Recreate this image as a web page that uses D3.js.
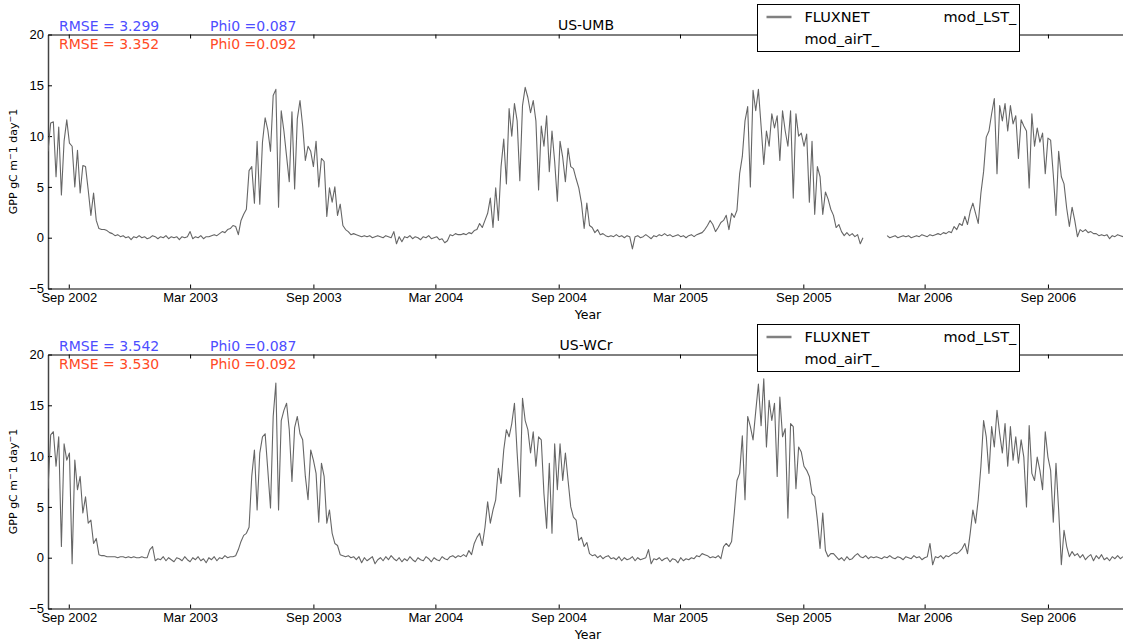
<!DOCTYPE html>
<html>
<head>
<meta charset="utf-8">
<script src="https://cdn.jsdelivr.net/npm/d3@7/dist/d3.min.js"></script>
<style>
  body { margin: 0; background: #fff; }
  svg { font-family: "DejaVu Sans", sans-serif; }
</style>
</head>
<body>
<div id="chart"></div>
<script>
// daily GPP, one value every 4 days from 1 Aug 2002
var startDate = new Date(2002, 7, 1);
var stepDays = 4;

var gppUMB = [
  8.5, 11.3, 11.4, 6.0, 10.9, 4.2, 9.5, 11.6, 9.3, 9.0,
  5.0, 8.6, 4.4, 7.1, 7.0, 4.7, 2.2, 4.4, 1.7, 0.9,
  0.8, 0.8, 0.7, 0.5, 0.4, 0.2, 0.3, 0.1, 0.2, 0.0,
  0.1, -0.2, 0.1, 0.0, 0.2, 0.0, 0.1, -0.1, 0.0, 0.2,
  0.1, -0.1, 0.1, 0.0, 0.2, -0.1, 0.1, 0.0, 0.1, -0.2,
  0.1, 0.0, 0.1, 0.6, -0.1, 0.1, 0.0, 0.2, -0.1, 0.1,
  0.1, 0.2, 0.3, 0.2, 0.4, 0.6, 0.5, 0.8, 0.9, 1.2,
  1.1, 0.3, 1.7, 2.3, 2.8, 6.6, 7.0, 3.4, 9.5, 3.3,
  9.4, 11.8, 10.6, 8.5, 14.0, 14.6, 3.0, 12.5, 10.5, 8.0,
  5.5, 12.4, 4.8, 11.7, 13.5, 11.0, 7.6, 9.0, 8.5, 7.0,
  9.5, 5.0, 7.8, 7.5, 2.1, 4.9, 3.5, 5.0, 2.2, 3.3,
  1.2, 0.8, 0.6, 0.3, 0.4, 0.3, 0.2, 0.1, 0.2, 0.1,
  0.2, 0.0, 0.1, 0.2, 0.1, 0.0, 0.2, 0.1, 0.0, 0.6,
  -0.6, 0.1, -0.4, 0.1, 0.0, 0.2, -0.1, 0.1, 0.0, -0.2,
  0.1, 0.0, 0.2, -0.1, 0.0, 0.1, -0.2, -0.1, -0.5, -0.3,
  0.3, 0.2, 0.4, 0.3, 0.3, 0.4, 0.3, 0.5, 0.4, 0.7,
  0.8, 1.4, 1.0, 1.7, 2.4, 3.9, 1.0, 4.9, 1.7, 7.0,
  9.7, 5.3, 12.7, 10.0, 13.2, 11.5, 5.6, 13.0, 14.8, 13.8,
  12.3, 13.5, 11.5, 4.7, 11.0, 9.0, 12.0, 6.5, 10.5, 7.5,
  3.6, 9.5, 7.9, 5.5, 8.8, 7.0, 6.8, 5.8, 4.9, 3.4,
  0.9, 3.4, 1.2, 1.0, 0.5, 0.8, 0.3, 0.4, 0.2, 0.1,
  0.2, 0.1, 0.3, 0.1, 0.2, 0.0, 0.2, 0.1, -1.1, 0.1,
  0.2, 0.0, 0.1, 0.3, 0.1, -0.1, 0.2, 0.1, 0.3, 0.2,
  0.4, 0.2, 0.3, 0.1, 0.2, 0.3, 0.1, 0.2, 0.0, 0.2,
  0.3, 0.1, 0.3, 0.4, 0.5, 0.8, 1.2, 1.7, 1.3, 0.6,
  1.0, 1.5, 1.7, 2.2, 0.8, 2.4, 2.0, 2.7, 6.3, 8.0,
  11.5, 12.9, 5.0, 14.5, 12.5, 14.6, 11.0, 7.2, 10.5, 9.0,
  12.2, 10.8, 12.0, 7.6, 12.5, 10.5, 9.0, 12.5, 3.9, 12.2,
  10.0, 10.3, 9.0, 10.2, 3.5, 9.5, 2.3, 7.0, 6.0, 2.3,
  4.5, 3.8, 2.8, 2.2, 1.0, 1.3, 0.6, 0.2, 0.5, 0.2,
  0.4, 0.1, 0.3, -0.6, 0.0, null, null, null, null, null,
  null, null, null, 0.2, 0.0, 0.1, 0.2, 0.0, 0.1, 0.2,
  0.1, 0.2, 0.0, 0.1, 0.2, 0.1, 0.3, 0.2, 0.1, 0.3,
  0.2, 0.3, 0.4, 0.3, 0.5, 0.4, 0.6, 0.5, 1.1, 0.8,
  1.4, 1.2, 2.1, 1.3, 2.6, 3.4, 2.4, 1.4, 4.4, 6.5,
  9.9, 10.5, 12.2, 13.7, 6.3, 13.0, 11.5, 13.2, 10.5, 13.0,
  11.2, 12.0, 7.8, 11.6, 11.0, 10.5, 4.9, 12.2, 9.0, 10.8,
  9.4, 10.3, 6.3, 9.8, 9.6, 6.2, 2.2, 8.5, 6.0, 5.3,
  2.9, 1.1, 3.0, 1.7, 0.1, 0.8, 0.6, 0.8, 0.5, 0.6,
  0.4, 0.4, 0.2, 0.3, 0.2, 0.3, -0.1, 0.2, 0.1, 0.3,
  0.2, 0.1
];

var gppWCr = [
  6.8, 12.1, 12.4, 9.0, 11.9, 1.1, 11.2, 9.6, 10.3, -0.6,
  9.6, 6.7, 8.0, 4.4, 6.0, 3.4, 3.7, 1.4, 1.9, 0.3,
  0.2, 0.2, 0.1, 0.1, 0.1, 0.1, 0.0, 0.1, 0.1, 0.0,
  0.1, 0.0, 0.1, 0.0, 0.0, 0.1, 0.0, 0.0, 0.8, 1.1,
  -0.3, -0.1, -0.2, 0.1, -0.3, 0.0, -0.2, -0.4, 0.0, -0.1,
  -0.3, 0.1, -0.2, -0.4, 0.0, -0.2, 0.1, -0.3, -0.1, -0.5,
  0.0, -0.2, 0.1, -0.3, 0.0, -0.1, 0.2, 0.0, 0.1, 0.1,
  0.2, 0.8, 1.6, 2.2, 2.4, 3.0, 8.0, 10.6, 4.7, 10.3,
  11.9, 12.2, 8.6, 4.9, 13.9, 17.2, 4.7, 13.5, 14.5, 15.2,
  12.6, 7.5, 12.8, 13.9, 12.2, 11.6, 8.0, 5.7, 10.6, 9.6,
  8.3, 3.5, 9.3, 8.0, 3.4, 4.7, 2.4, 1.4, 1.2, 0.3,
  0.2, 0.1, 0.2, 0.0, 0.1, -0.2, 0.1, -0.5, 0.0, -0.3,
  -0.1, 0.1, -0.6, -0.2, 0.0, -0.3, 0.1, -0.2, 0.2, -0.1,
  -0.3, 0.0, -0.4, -0.1, -0.3, 0.1, -0.2, -0.4, 0.0, -0.2,
  -0.3, 0.1, -0.1, -0.4, 0.0, -0.2, -0.3, 0.1, -0.1, -0.2,
  0.1, 0.2, 0.0, 0.2, 0.1, 0.3, 0.1, 0.7, 0.3, 1.4,
  2.0, 2.4, 1.2, 3.0, 5.5, 3.4, 4.7, 5.7, 8.8, 7.3,
  10.6, 12.6, 11.9, 13.2, 15.2, 10.3, 6.0, 15.7, 13.5, 12.6,
  10.3, 12.4, 9.0, 11.9, 11.6, 6.3, 2.9, 9.3, 2.4, 11.2,
  6.7, 11.2, 7.6, 10.3, 7.6, 5.0, 4.0, 3.7, 1.7, 2.0,
  1.1, 1.5, 0.4, 0.2, 0.3, 0.0, 0.2, -0.1, 0.1, 0.2,
  -0.1, 0.0, -0.2, 0.1, -0.3, 0.0, -0.2, -0.1, 0.1, -0.3,
  0.0, -0.2, -0.1, 0.0, 0.8, -0.6, -0.1, -0.2, 0.0, -0.3,
  -0.1, 0.0, -0.4, -0.1, -0.2, -0.5, 0.0, -0.3, -0.1, -0.2,
  0.0, -0.1, 0.2, 0.1, 0.4, 0.3, 0.2, 0.0, 0.1, 0.0,
  0.2, -0.1, 1.1, 1.4, 1.1, 1.6, 4.4, 7.6, 8.3, 12.0,
  5.7, 13.9, 12.9, 11.6, 14.4, 17.1, 13.0, 17.6, 10.9, 15.5,
  13.5, 15.2, 8.0, 15.8, 11.9, 12.7, 3.9, 13.2, 12.9, 6.8,
  10.9, 10.4, 9.0, 8.6, 8.0, 6.3, 6.0, 3.7, 0.9, 4.4,
  0.7, 0.1, 0.4, 0.4, 0.1, -0.2, 0.0, -0.3, 0.1, -0.2,
  -0.1, 0.2, 0.4, 0.1, 0.0, 0.2, -0.1, 0.1, 0.0, 0.1,
  0.0, -0.1, 0.1, 0.0, 0.2, 0.0, -0.1, 0.1, 0.0, -0.2,
  0.1, 0.0, -0.1, 0.2, 0.0, 0.1, -0.2, 0.0, 0.1, 1.4,
  -0.7, 0.1, 0.0, 0.2, -0.1, 0.2, 0.1, 0.3, 0.5, 0.4,
  0.6, 0.9, 1.4, 0.4, 2.4, 4.7, 3.4, 5.7, 9.0, 13.5,
  11.9, 8.3, 12.9, 10.9, 14.5, 12.2, 10.3, 13.2, 9.0, 12.9,
  9.6, 11.9, 9.3, 11.6, 9.9, 5.0, 13.0, 8.3, 7.6, 9.9,
  8.6, 6.7, 12.4, 9.9, 8.6, 3.5, 9.3, 4.7, -0.7, 2.7,
  1.1, 0.1, 0.6, 0.2, 0.4, 0.0, 0.3, -0.2, 0.1, 0.3,
  -0.3, 0.2, -0.1, 0.3, -0.2, 0.0, -0.3, 0.1, -0.1, 0.2,
  -0.1, 0.1
];

var siteNames = ['US-UMB', 'US-WCr'];
var siteSeries = [gppUMB, gppWCr];
var rmseLST = ['3.299', '3.542'];
var rmseAirT = ['3.352', '3.530'];
var phiLST = ['0.087', '0.087'];
var phiAirT = ['0.092', '0.092'];
var legendLabels = ['FLUXNET', 'mod_LST_', 'mod_airT_'];

var xTickDates = [
  new Date(2002, 8, 1), new Date(2003, 2, 1), new Date(2003, 8, 1),
  new Date(2004, 2, 1), new Date(2004, 8, 1), new Date(2005, 2, 1),
  new Date(2005, 8, 1), new Date(2006, 2, 1), new Date(2006, 8, 1)
];
var xTickLabels = ['Sep 2002', 'Mar 2003', 'Sep 2003', 'Mar 2004', 'Sep 2004',
                   'Mar 2005', 'Sep 2005', 'Mar 2006', 'Sep 2006'];
var yTicks = [-5, 0, 5, 10, 15, 20];

var width = 1123;
var height = 644;
var left = 48;
var right = 1123;
var panelTops = [34.5, 354.5];
var panelHeight = 254;

var svg = d3.select('#chart')
  .append('svg')
  .attr('width', width)
  .attr('height', height);

var x = d3.scaleTime()
  .domain([new Date(2002, 7, 1), new Date(2006, 11, 22)])
  .range([left, right]);

svg.append('defs').append('clipPath')
  .attr('id', 'plotclip')
  .append('rect')
  .attr('x', left).attr('y', 0)
  .attr('width', right - left).attr('height', height);

siteNames.forEach(function(site, p){
  var top = panelTops[p];
  var bottom = top + panelHeight;
  var y = d3.scaleLinear().domain([-5, 20]).range([bottom, top]);

  var points = siteSeries[p].map(function(v, i){
    return {date: d3.timeDay.offset(startDate, i * stepDays), value: v};
  });

  // bottom axis
  var xAxis = svg.append('g')
    .attr('transform', 'translate(0,' + bottom + ')')
    .call(d3.axisBottom(x)
      .tickValues(xTickDates)
      .tickFormat(function(d, i){ return xTickLabels[i]; })
      .tickSizeInner(-4)
      .tickSizeOuter(0)
      .tickPadding(4));
  xAxis.select('.domain').attr('stroke', '#808080').attr('stroke-width', 2);
  xAxis.selectAll('.tick line').attr('stroke', '#000');
  xAxis.selectAll('text').attr('font-size', 13).attr('fill', '#000');

  // top spine with ticks only
  var topAxis = svg.append('g')
    .attr('transform', 'translate(0,' + top + ')')
    .call(d3.axisTop(x)
      .tickValues(xTickDates)
      .tickFormat('')
      .tickSizeInner(-4)
      .tickSizeOuter(0));
  topAxis.select('.domain').attr('stroke', '#000').attr('stroke-width', 1);

  // left axis
  var yAxis = svg.append('g')
    .attr('transform', 'translate(' + left + ',0)')
    .call(d3.axisLeft(y)
      .tickValues(yTicks)
      .tickSizeInner(-4)
      .tickSizeOuter(0)
      .tickPadding(4));
  yAxis.select('.domain').attr('stroke', '#444').attr('stroke-width', 1.5);
  yAxis.selectAll('text').attr('font-size', 13).attr('fill', '#000');

  // series
  var line = d3.line()
    .defined(function(d){ return d.value !== null; })
    .x(function(d){ return x(d.date); })
    .y(function(d){ return y(d.value); });

  svg.append('path')
    .datum(points)
    .attr('clip-path', 'url(#plotclip)')
    .attr('fill', 'none')
    .attr('stroke', '#666')
    .attr('stroke-width', 1.1)
    .attr('stroke-linejoin', 'round')
    .attr('d', line);

  // labels
  svg.append('text')
    .attr('x', 586).attr('y', top - 5)
    .attr('text-anchor', 'middle')
    .attr('font-size', 14)
    .text(site);

  svg.append('text')
    .attr('x', 588).attr('y', bottom + 30)
    .attr('text-anchor', 'middle')
    .attr('font-size', 12.5)
    .text('Year');

  var ylab = svg.append('text')
    .attr('transform', 'translate(17,' + (top + panelHeight / 2) + ') rotate(-90)')
    .attr('text-anchor', 'middle')
    .attr('font-size', 11);
  ylab.append('tspan').text('GPP gC m');
  ylab.append('tspan').attr('dy', -4).attr('font-size', 8).text('\u2212');
  ylab.append('tspan').attr('dy', 4).text('1 day');
  ylab.append('tspan').attr('dy', -4).attr('font-size', 8).text('\u2212');
  ylab.append('tspan').attr('dy', 4).text('1');

  svg.append('text')
    .attr('x', 59).attr('y', top - 4)
    .attr('font-size', 14).attr('fill', '#4d4dff')
    .text('RMSE = ' + rmseLST[p]);
  svg.append('text')
    .attr('x', 59).attr('y', top + 14)
    .attr('font-size', 14).attr('fill', '#ff4a26')
    .text('RMSE = ' + rmseAirT[p]);
  svg.append('text')
    .attr('x', 210).attr('y', top - 4)
    .attr('font-size', 14).attr('fill', '#4d4dff')
    .text('Phi0 =' + phiLST[p]);
  svg.append('text')
    .attr('x', 210).attr('y', top + 14)
    .attr('font-size', 14).attr('fill', '#ff4a26')
    .text('Phi0 =' + phiAirT[p]);

  // legend
  var lg = svg.append('g').attr('transform', 'translate(757.5,' + (top - 30) + ')');
  lg.append('rect')
    .attr('width', 262).attr('height', 47)
    .attr('fill', '#fff').attr('stroke', '#000').attr('stroke-width', 1);
  lg.append('line')
    .attr('x1', 9).attr('x2', 34).attr('y1', 12.5).attr('y2', 12.5)
    .attr('stroke', '#808080').attr('stroke-width', 2.5);
  lg.append('text').attr('x', 47).attr('y', 17).attr('font-size', 14.5).text(legendLabels[0]);
  lg.append('text').attr('x', 186).attr('y', 17).attr('font-size', 14.5).text(legendLabels[1]);
  lg.append('text').attr('x', 47).attr('y', 39).attr('font-size', 14.5).text(legendLabels[2]);
});
</script>
</body>
</html>
